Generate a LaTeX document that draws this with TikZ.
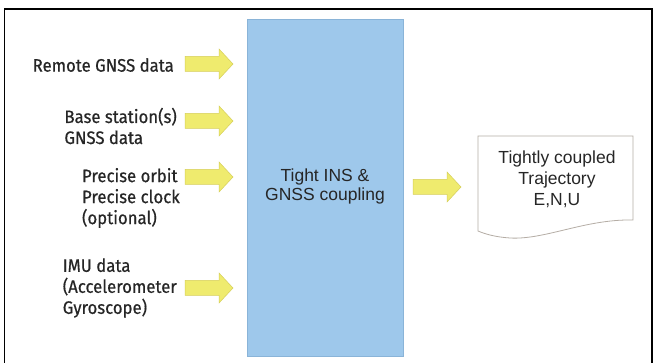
\documentclass[tikz,border=0pt]{standalone}
\usepackage{fontspec}
\setmainfont{Liberation Sans}
\newfontfamily\condfont[FakeStretch=0.93, FakeBold=0.6]{Fira Sans}
\definecolor{blockblue}{HTML}{9EC8EB}
\definecolor{blockedge}{HTML}{8AB4D8}
\definecolor{arrowyellow}{HTML}{EFEB6E}
\definecolor{arrowedge}{HTML}{D6CF5A}
\definecolor{textgray}{HTML}{262626}
\definecolor{docedge}{HTML}{B5ADA5}
\tikzset{
  labeltext/.style={font=\condfont\fontsize{18}{21}\selectfont, text=textgray, align=left, anchor=east, inner sep=0pt},
  centertext/.style={font=\fontsize{17.5}{19}\selectfont, text=textgray, align=center, inner sep=0pt},
  doctext/.style={font=\fontsize{17.5}{21}\selectfont, text=textgray, align=center, inner sep=0pt},
  blockarrow/.pic={
    \path[fill=arrowyellow, draw=arrowedge, line width=0.5pt]
      (0,-7.5) -- (34,-7.5) -- (34,-15) -- (48,0) -- (34,15) -- (34,7.5) -- (0,7.5) -- cycle;
  }
}
\begin{document}
\begin{tikzpicture}[x=1pt,y=-1pt]
\useasboundingbox (0,0) rectangle (653,363);
\fill[white] (0,0) rectangle (653,363);
% outer frame
\draw[black, line width=1.5pt] (4.5,370) -- (4.5,9) -- (652,9) -- (652,370);
% central block
\node[draw=blockedge, fill=blockblue, line width=0.8pt, minimum width=156pt, minimum height=337pt, inner sep=0pt] (core) at (325,187.5) {};
\node[centertext] (coretext) at (325,186) {Tight INS \&\\GNSS coupling};
% input labels
\node[labeltext] (remote) at (174,65) {Remote GNSS data};
\node[labeltext] (base) at (177,126) {Base station(s)\\GNSS data};
\node[labeltext] (precise) at (180,198) {Precise orbit\\Precise clock\\(optional)};
\node[labeltext] (imu) at (177,288) {IMU data\\(Accelerometer\\Gyroscope)};
% input arrows
\pic at (185,64) {blockarrow};
\pic at (185,121) {blockarrow};
\pic at (185,177) {blockarrow};
\pic at (185,288) {blockarrow};
% output arrow
\pic at (413,187) {blockarrow};
% document
\path[fill=white, draw=docedge, line width=0.8pt]
  (478,136) -- (633,136) -- (633,220)
  .. controls (585,219) and (545,240) .. (510,238)
  .. controls (495,237) and (485,234) .. (478,231) -- cycle;
\node[doctext] (doc) at (557,179) {Tightly coupled\\Trajectory\\E,N,U};
\end{tikzpicture}
\end{document}
